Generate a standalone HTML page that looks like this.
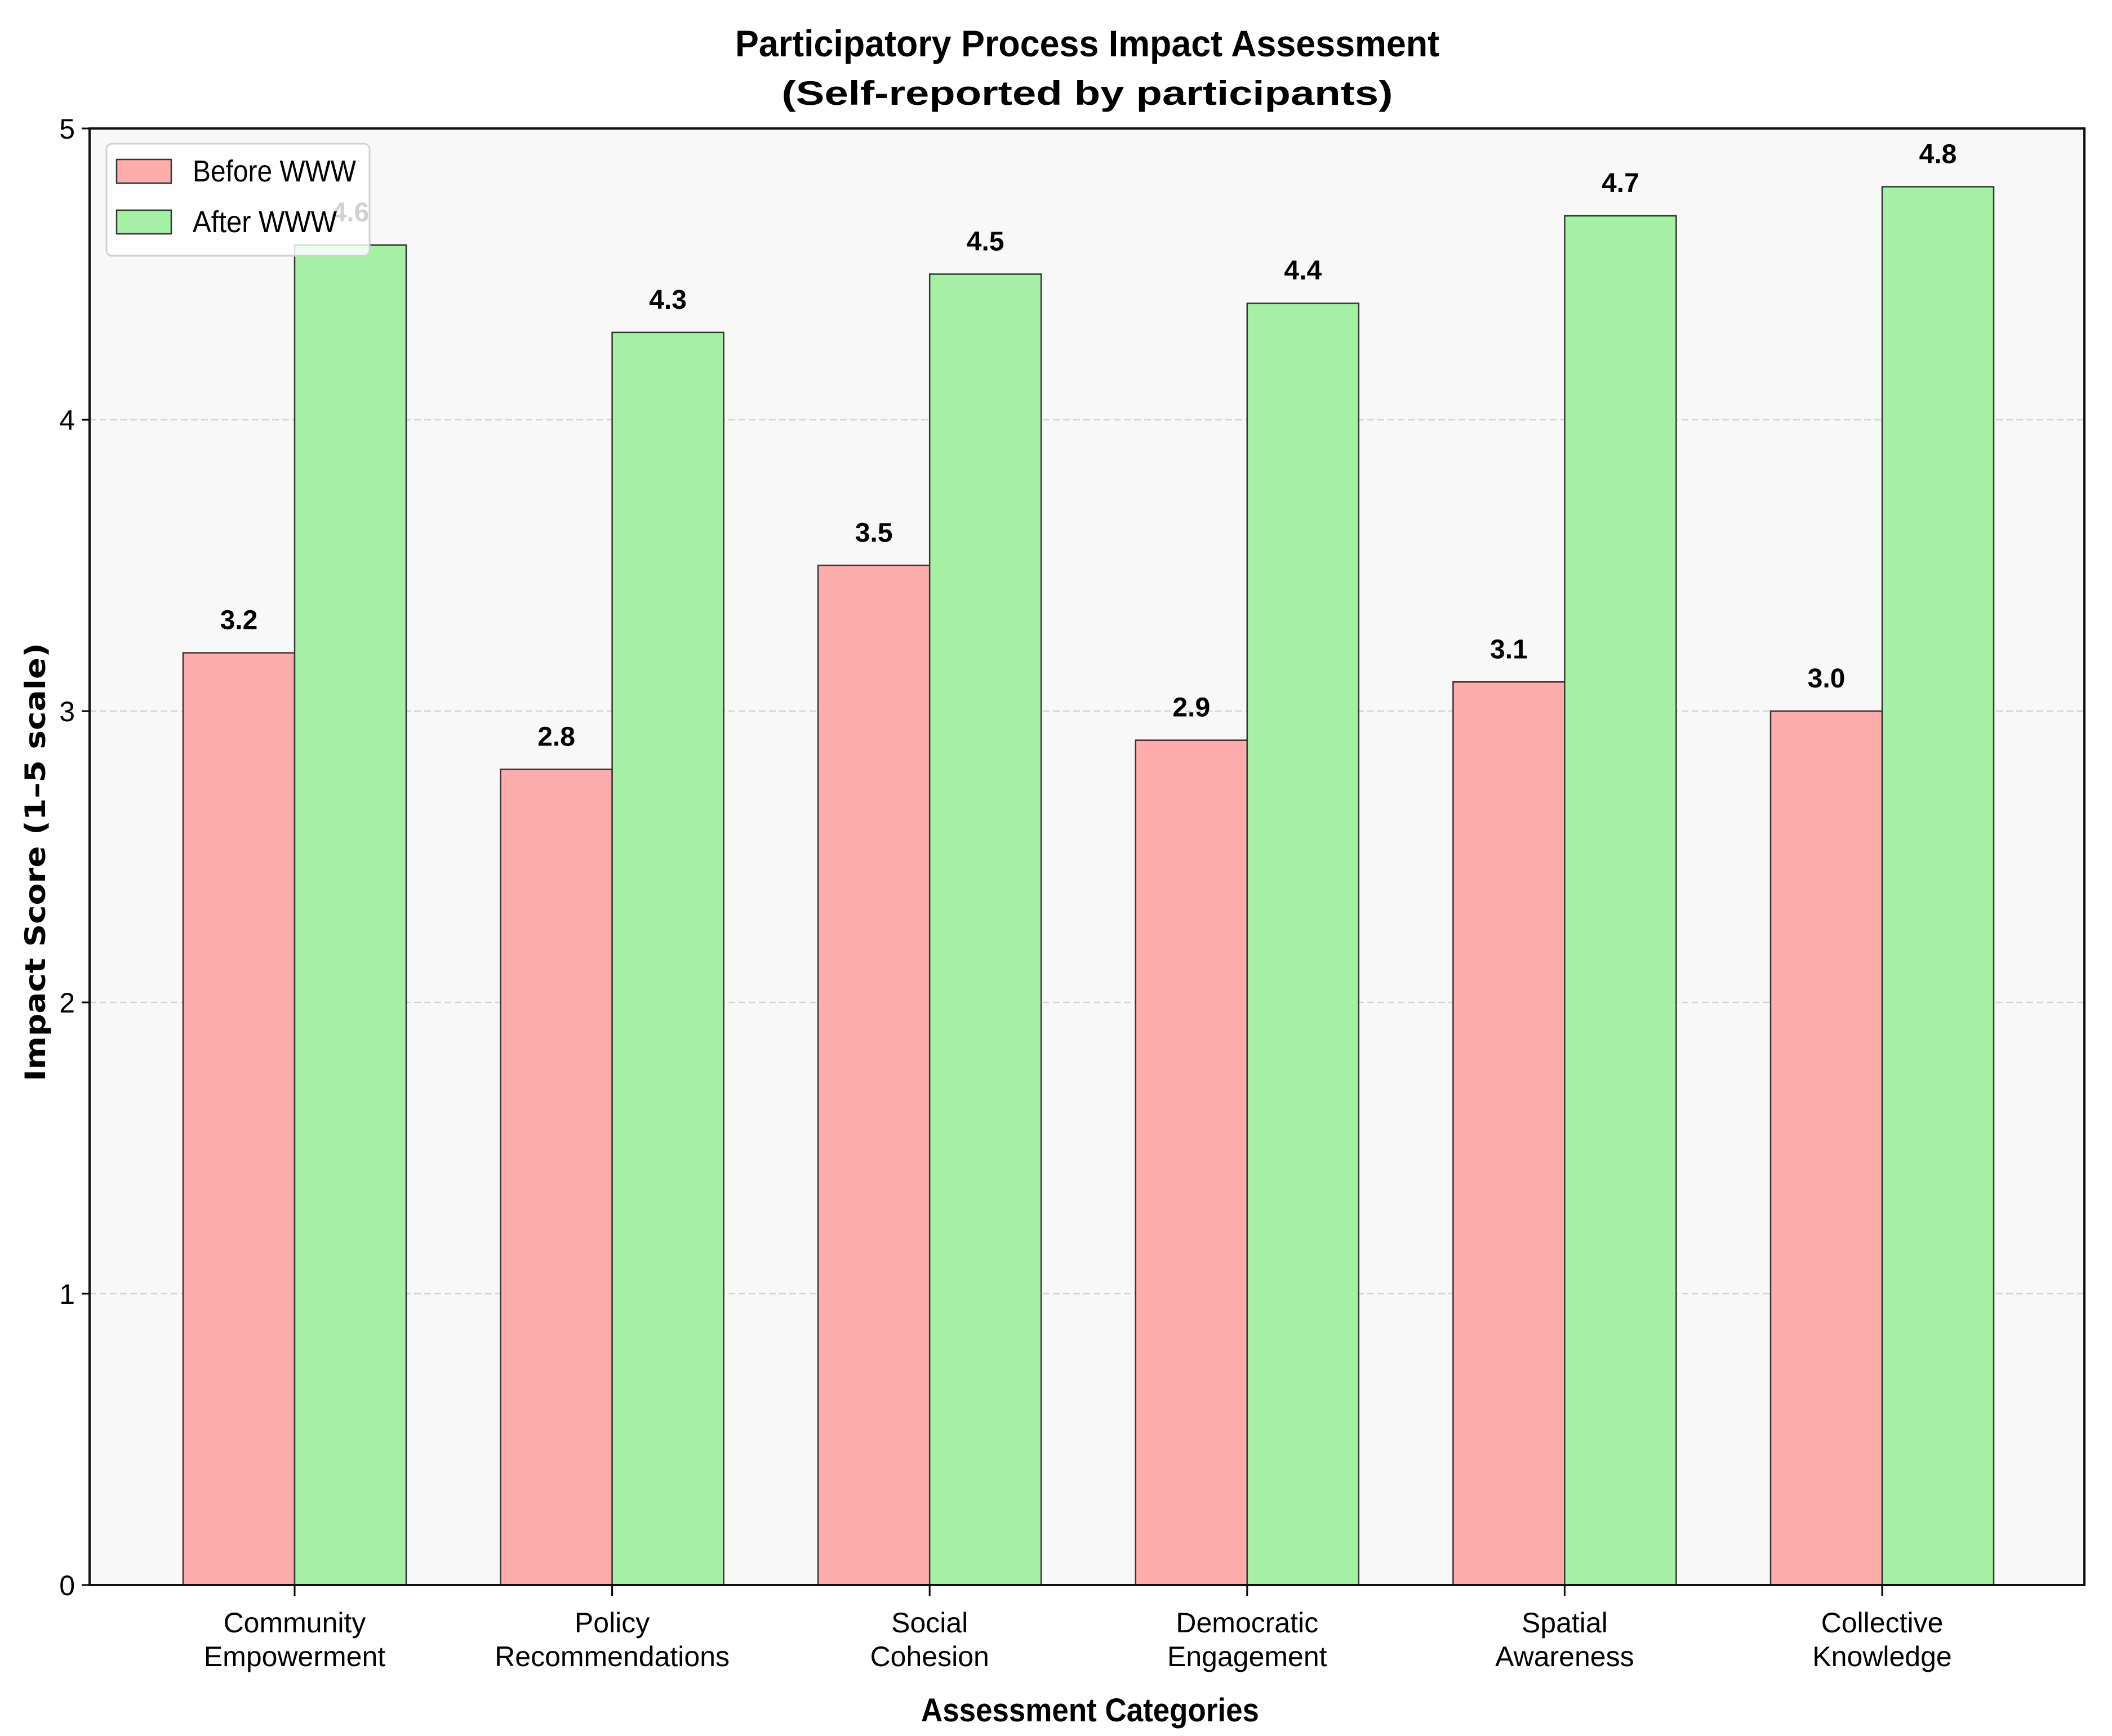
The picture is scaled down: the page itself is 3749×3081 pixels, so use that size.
<!DOCTYPE html>
<html><head><meta charset="utf-8"><style>
html,body{margin:0;padding:0;background:#fff;}
svg{display:block;}
text{font-family:"Liberation Sans Narrow","Liberation Sans",sans-serif;}
</style></head>
<body>
<svg id="chart" xmlns="http://www.w3.org/2000/svg" width="3749" height="3081" viewBox="0 0 3749 3081">
<rect x="0" y="0" width="3749" height="3081" fill="#ffffff"/>
<text x="1930" y="100" text-anchor="middle" font-size="66" font-weight="bold" textLength="1250" lengthAdjust="spacingAndGlyphs">Participatory Process Impact Assessment</text>
<text x="1930" y="186" text-anchor="middle" font-size="60" font-weight="bold" textLength="1085" lengthAdjust="spacingAndGlyphs">(Self-reported by participants)</text>
<g id="plot"></g>
<text x="1935" y="3055" text-anchor="middle" font-size="58" font-weight="bold" textLength="600" lengthAdjust="spacingAndGlyphs">Assessment Categories</text>
<text transform="translate(80,1530) rotate(-90)" text-anchor="middle" font-size="50" font-weight="bold" style="font-family:'DejaVu Sans',sans-serif" textLength="778" lengthAdjust="spacingAndGlyphs">Impact Score (1–5 scale)</text>
</svg>
<script>
const categories = [["Community","Empowerment"],["Policy","Recommendations"],["Social","Cohesion"],["Democratic","Engagement"],["Spatial","Awareness"],["Collective","Knowledge"]];
const beforeValues = [3.2, 2.8, 3.5, 2.9, 3.1, 3.0];
const afterValues = [4.6, 4.3, 4.5, 4.4, 4.7, 4.8];
const yTicks = [0, 1, 2, 3, 4, 5];
const seriesNames = ["Before WWW", "After WWW"];

const NS = "http://www.w3.org/2000/svg";
const L = 159, R = 3700, T = 228, B = 2813;
const yMax = 5;
const y = v => B - (v / yMax) * (B - T);
const x = i => 523 + 563.6 * i;
const barW = 198;
const plot = document.getElementById('plot');
function mk(tag, attrs, parent) {
  const e = document.createElementNS(NS, tag);
  for (const k in attrs) e.setAttribute(k, attrs[k]);
  (parent || plot).appendChild(e);
  return e;
}
const bg = mk('rect', {x: L, y: T, width: R - L, height: B - T, fill: '#f8f8f8'});



yTicks.forEach(t => {
  if (t > 0 && t < yMax) {
    const g = mk('line', {x1: L, x2: R, y1: y(t), y2: y(t), stroke: '#cccccc', 'stroke-width': 2.5, 'stroke-dasharray': '12,6', opacity: 0.8});
    
    
  }
  const tk = mk('line', {x1: L - 14, x2: L, y1: y(t), y2: y(t), stroke: '#000', 'stroke-width': 3});
  
  
  const lb = mk('text', {x: L - 26, y: y(t) + 18, 'text-anchor': 'end', 'font-size': 50});
  lb.textContent = t;
  
  
});

function bars(vals, off, fill, name) {
  vals.forEach((v, i) => {
    const bx = x(i) + off;
    const r = mk('rect', {x: bx, y: y(v), width: barW, height: B - y(v), fill: fill, stroke: '#333', 'stroke-width': 2.5});
    
    
    const t = mk('text', {x: bx + barW / 2, y: y(v) - 42, 'text-anchor': 'middle', 'font-size': 48, 'font-weight': 'bold'});
    t.textContent = v.toFixed(1);
    
    
  });
}
bars(beforeValues, -barW, '#ffacac', 'before');
bars(afterValues, 0, '#a5f0a5', 'after');

categories.forEach((c, i) => {
  const tk = mk('line', {x1: x(i), x2: x(i), y1: B, y2: B + 20, stroke: '#000', 'stroke-width': 3});
  
  
  c.forEach((line, j) => {
    const t = mk('text', {x: x(i), y: 2897 + j * 60, 'text-anchor': 'middle', 'font-size': 50});
    t.textContent = line;
    
    
  });
});

const frame = mk('rect', {x: L, y: T, width: R - L, height: B - T, fill: 'none', stroke: '#111', 'stroke-width': 4});



const lg = mk('g', {});


const lbox = mk('rect', {x: 189, y: 255, width: 467, height: 199, rx: 10, fill: '#ffffff', 'fill-opacity': 0.82, stroke: '#d0d0d0', 'stroke-width': 3}, lg);


const lcolors = ['#ffacac', '#a5f0a5'];
const lwidths = [290, 256];
seriesNames.forEach((n, k) => {
  const py = 283 + k * 90;
  const p = mk('rect', {x: 207, y: py, width: 97, height: 42, fill: lcolors[k], stroke: '#333', 'stroke-width': 2.5}, lg);
  
  
  const t = mk('text', {x: 342, y: py + 39, 'font-size': 54, textLength: lwidths[k], lengthAdjust: 'spacingAndGlyphs'}, lg);
  t.textContent = n;
  
  
});
</script>
</body></html>
